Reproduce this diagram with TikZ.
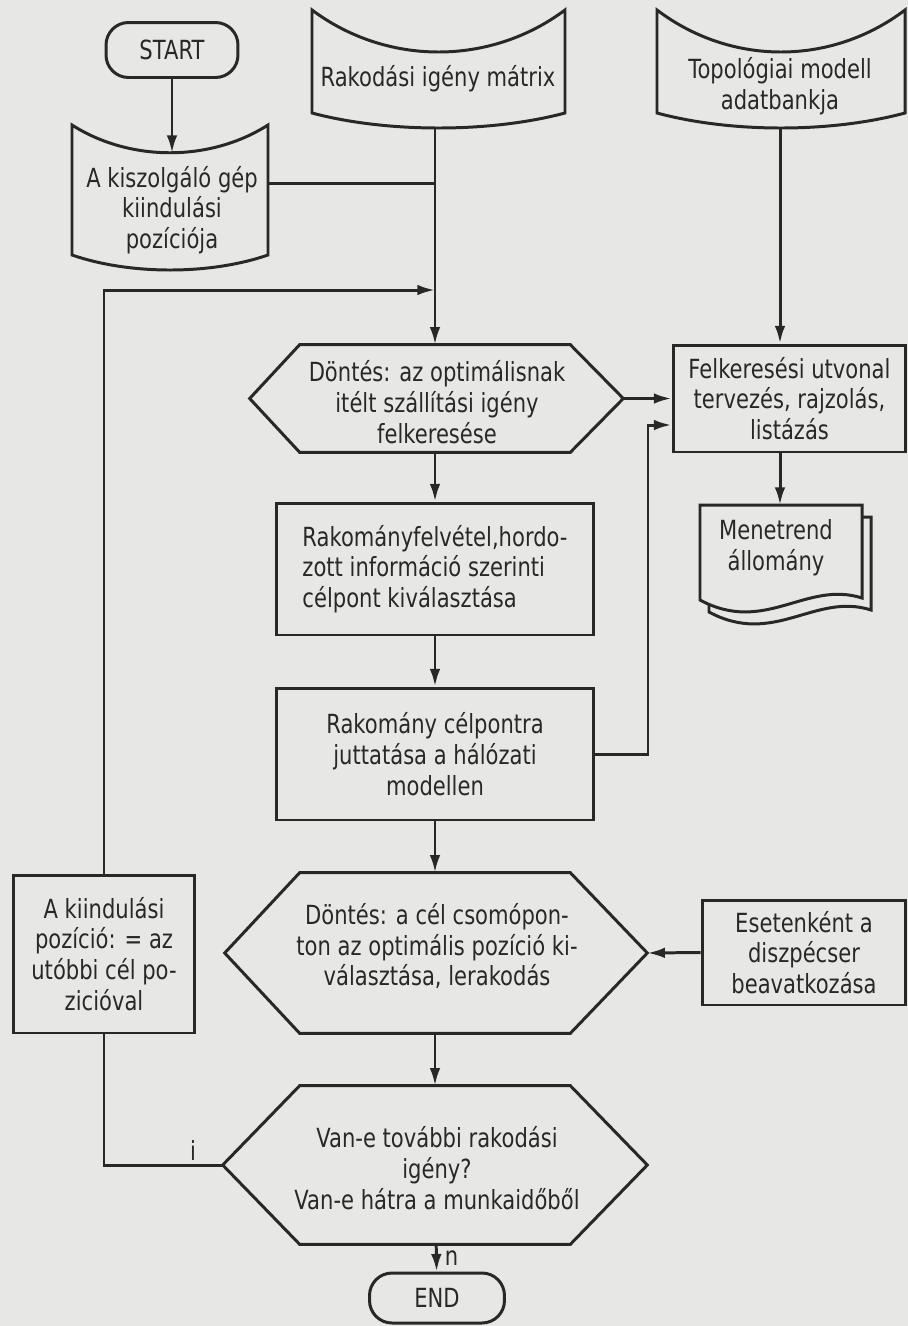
\documentclass[tikz,border=0pt]{standalone}
\usepackage{fontspec}
\setmainfont{DejaVu Sans}[FakeStretch=0.8]
\usetikzlibrary{arrows.meta}
\definecolor{paper}{RGB}{231,231,229}
\definecolor{ink}{RGB}{40,40,40}

\tikzset{
  flow/.style={line width=1.7pt, draw=ink},
  box/.style={flow, inner sep=0pt, align=center, text=ink},
  txt/.style={inner sep=0pt, align=center, text=ink},
  frame/.style={inner sep=0pt},
  term/.style={box, rounded corners=0.45cm},
}

\begin{document}
\begin{tikzpicture}[x=0.02cm,y=-0.02cm,>={Latex[length=10pt,width=6pt]},font=\fontsize{15}{17.5}\selectfont]
    \fill[paper] (0,0) rectangle (908,1326);
    \useasboundingbox (0,0) rectangle (908,1326);
    %
    % top row: start and the stored data
    \node[term, minimum width=2.64cm, minimum height=1.1cm] (start) at (172,50) {START};
    \draw[flow] (72,125) .. controls (130,162) and (210,162) .. (268,125) -- (268,255)
       .. controls (210,275) and (130,275) .. (72,255) -- cycle;
    \node[txt] (kiszolg) at (172,210) {A kiszolgáló gép\\kiindulási\\pozíciója};
    \coordinate (kiszolg-top) at (172,153);
    \coordinate (kiszolg-e) at (268,183);
    \draw[flow] (312,10) .. controls (387,66) and (490,66) .. (565,10) -- (565,113)
       .. controls (490,133) and (387,133) .. (312,113) -- cycle;
    \node[txt] (matrix) at (438,79) {Rakodási igény mátrix};
    \coordinate (matrix-bot) at (435,128);
    \draw[flow] (657,10) .. controls (731,66) and (831,66) .. (905,10) -- (905,113)
       .. controls (831,133) and (731,133) .. (657,113) -- cycle;
    \node[txt] (topo) at (780,86) {Topológiai modell\\adatbankja};
    \coordinate (topo-bot) at (780,128);
    %
    % main column
    \node[frame, minimum width=5.4cm, minimum height=2.14cm] (decA) at (435,398.5) {};
    \node[txt] (decA-text) at (437,402) {Döntés: az optimálisnak\\itélt szállítási igény\\felkeresése};
    \draw[flow] (decA.north west) -- (decA.north east) -- ([xshift=1.06cm]decA.east)
       -- (decA.south east) -- (decA.south west) -- ([xshift=-1cm]decA.west) -- cycle;
    \coordinate (decA-e) at ([xshift=1.06cm]decA.east);
    \node[box, align=left, minimum width=6.36cm, minimum height=2.64cm] (boxB) at (435,569)
       {Rakományfelvétel,hordo-\\zott információ szerinti\\célpont kiválasztása};
    \node[box, minimum width=6.36cm, minimum height=2.64cm] (boxC) at (435,754)
       {Rakomány célpontra\\juttatása a hálózati\\modellen};
    \node[frame, minimum width=5.4cm, minimum height=3.2cm] (decB) at (435,953) {};
    \node[txt] (decB-text) at (437,946) {Döntés: a cél csomópon-\\ton az optimális pozíció ki-\\választása, lerakodás};
    \draw[flow] (decB.north west) -- (decB.north east) -- ([xshift=1.54cm]decB.east)
       -- (decB.south east) -- (decB.south west) -- ([xshift=-1.5cm]decB.west) -- cycle;
    \coordinate (decB-e) at ([xshift=1.54cm]decB.east);
    \node[frame, minimum width=5.4cm, minimum height=3.16cm] (decC) at (435,1165) {};
    \node[txt] (decC-text) at (437,1168) {Van-e további rakodási\\igény?\\Van-e hátra a munkaidőből};
    \draw[flow] (decC.north west) -- (decC.north east) -- ([xshift=1.54cm]decC.east)
       -- (decC.south east) -- (decC.south west) -- ([xshift=-1.54cm]decC.west) -- cycle;
    \coordinate (decC-w) at ([xshift=-1.54cm]decC.west);
    \node[term, minimum width=2.7cm, minimum height=1cm] (end) at (437,1298) {END};
    %
    % right column
    \node[box, minimum width=4.66cm, minimum height=2.14cm] (route) at (789.5,398.5)
       {Felkeresési utvonal\\tervezés, rajzolás,\\listázás};
    \draw[flow, fill=paper] (709,517) -- (871,517) -- (871,610)
       .. controls (815,592) and (774,647) .. (709,612) -- cycle;
    \draw[flow, fill=paper] (700,505) -- (862,505) -- (862,598)
       .. controls (806,580) and (765,635) .. (700,600) -- cycle;
    \node[txt] (menet) at (776,548) {Menetrend\\állomány};
    \coordinate (menet-top) at (780,505);
    \coordinate (feedback) at (648,425);
    \node[box, minimum width=4.08cm, minimum height=2.1cm] (dispatch) at (804,952.5)
       {Esetenként a\\diszpécser\\beavatkozása};
    %
    % left column
    \node[box, minimum width=3.64cm, minimum height=3.16cm] (initpos) at (104,954)
       {A kiindulási\\pozíció: = az\\utóbbi cél po-\\zicióval};
    \coordinate (join) at (435,290);
    \node[txt] (yes) at (193,1150) {i};
    %
    % connectors
    \draw[flow,->] (start) -- (kiszolg-top);
    \draw[flow] (kiszolg-e) -- (kiszolg-e -| matrix-bot);
    \draw[flow,->] (matrix-bot) -- (decA);
    \draw[flow,->] (topo-bot) -- (topo-bot |- route.north);
    \draw[flow,->] (decA-e) -- (decA-e -| route.west);
    \draw[flow,->] (topo-bot |- route.south) -- (menet-top);
    \draw[flow,->] (decA) -- (boxB);
    \draw[flow,->] (boxB) -- (boxC);
    \draw[flow,->] (boxC) -- (decB);
    \draw[flow,->] (boxC.east) -| (feedback) -- (feedback -| route.west);
    \draw[flow,->] (dispatch.west) -- (decB-e);
    \draw[flow,->] (decB) -- (decC);
    \draw[flow,->] (decC) -- (end) node[txt, midway, right=4pt] (nlab) {n};
    \draw[flow] (decC-w) -| (initpos);
    \draw[flow,->] (initpos) |- (join);
  \end{tikzpicture}
\end{document}
